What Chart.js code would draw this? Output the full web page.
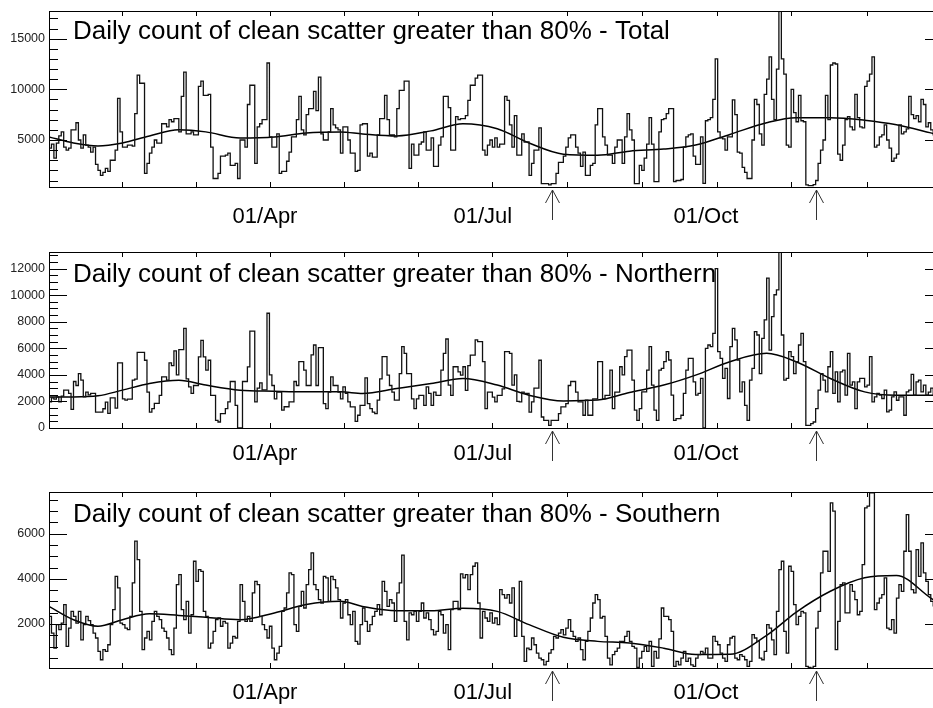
<!DOCTYPE html>
<html>
<head>
<meta charset="utf-8">
<script src="https://cdn.jsdelivr.net/npm/chart.js@4.4.1/dist/chart.umd.min.js"></script>
<style>
  html, body { margin: 0; padding: 0; background: #fff; overflow: hidden; width: 933px; height: 708px; }
  canvas { position: absolute; left: 0; }
</style>
</head>
<body>
<canvas id="pTotal" width="960" height="236" style="top:0px"></canvas>
<canvas id="pNorth" width="960" height="236" style="top:236px"></canvas>
<canvas id="pSouth" width="960" height="236" style="top:472px"></canvas>
<script>
// daily counts, index = day of year (0 = 01/Jan)
const totalCounts = [
  4200,4200,4600,3200,4700,5400,5800,4300,4000,4200,
  6000,6000,6700,5000,4200,5500,4500,4300,3800,4300,
  2600,2000,1500,1800,2200,1900,3000,
  3000,4000,9100,5800,4300,4300,4500,4500,4400,7600,
  11400,10600,10600,1700,2700,3700,4300,5000,4700,4700,
  6600,6600,6300,7000,6800,7100,7100,5800,9300,11700,
  5600,5600,5800,5500,5500,10300,10800,9400,9400,9500,
  4300,1200,1200,1700,3400,3400,3500,3700,2500,2500,
  2700,1200,5000,5000,4300,8500,10400,10400,2700,6300,
  6600,7000,7000,12600,5300,4300,4300,5600,1700,1900,
  1900,2900,3800,5300,5300,7000,9300,6000,5500,7500,
  8100,8100,9800,7900,11200,5600,5000,5000,
  5800,8100,6500,6200,6000,3700,6300,6300,5000,3700,
  3700,1900,2000,6500,6600,6600,3400,3700,3300,3300,
  5500,7100,7100,9400,7000,5500,5500,5300,8100,9900,
  9900,10800,10800,2200,4600,3500,3500,4600,4800,5800,
  4000,4000,5200,2400,2400,4500,5300,9300,9300,8200,
  4000,4000,7300,7000,7100,7100,7400,8900,10400,10400,
  11100,11400,11400,4000,3500,4500,5000,4300,5200,4300,
  4600,4600,9300,8900,6500,4300,7400,3500,3500,5600,
  4800,4800,1500,2700,4000,4000,6200,700,700,700,
  560,700,700,1700,2800,2800,3400,4300,5200,5500,
  5500,4300,3700,2400,3800,1500,1500,2500,2700,6500,
  8100,8100,5300,4500,3500,3500,2700,4300,5000,5000,
  2700,5300,
  7600,6000,5000,700,700,2500,2000,3200,4600,7200,
  4600,900,900,5800,7000,7100,7600,8100,8100,900,
  1000,1000,1100,4300,5300,5500,5600,3400,2600,2600,
  5300,720,6900,7000,7200,9000,13000,5800,5200,5100,
  4000,5300,5300,8950,7500,3800,3700,2300,1800,1200,
  1200,5000,9000,8500,5600,4500,9500,11000,13200,9000,
  7000,12000,17800,13000,11500,4500,4300,10000,7700,6800,
  9400,6900,6800,560,500,500,600,1000,2700,4000,
  5000,9400,7000,12400,12600,12500,3600,3000,4500,7000,
  7300,6300,6000,9500,7200,6300,6200,10300,10800,11500,
  13200,4300,4500,5300,5500,6500,5000,4200,2900,3200,
  3600,6500,5600,5800,6100,9300,7500,7100,7400,6800,
  9000,8500,6300,6700,6000,5500,5000,6500,6000
];

const northCounts = [
  1970,1970,2270,2170,2350,1970,2400,2850,2850,2600,
  1400,3500,3200,4100,3600,2350,2700,2500,2600,2600,
  1200,1200,1200,1450,1950,1100,2270,2270,1500,4900,
  4900,2200,2100,2170,2170,3600,3680,5700,5700,5700,
  5100,2700,1200,1460,1850,1850,2450,3850,3850,3600,
  4900,4700,5800,4000,5900,5900,7500,3700,3100,2600,
  3200,3200,5350,6600,5350,4350,5100,2450,2450,580,
  450,1080,1080,1460,1970,3500,3500,1700,0,0,
  3500,3500,4600,7300,7300,1970,3000,3400,2870,2870,
  8640,4000,3200,2200,2700,2700,1340,1600,1600,1970,
  1970,3500,3200,5000,5000,4350,3200,3200,5500,6250,
  3200,6050,6050,1840,1460,
  2700,3850,3200,3200,2700,2200,3100,2600,1970,1590,
  1590,500,960,1700,1700,3780,1840,1460,1200,1080,
  2100,3700,5370,5370,3980,3200,2700,2100,2100,4100,
  6120,5620,4100,4100,2200,1460,2200,2450,2450,1700,
  3100,2600,1700,2700,2450,2450,4360,5620,6700,3230,
  2450,4610,4610,4230,3980,4610,2840,4700,5490,5490,
  6630,6500,6500,5000,1460,2700,2700,2330,1970,2450,
  2450,2950,5750,5750,5620,3230,4000,2000,1970,2700,
  2600,2600,1200,1970,3000,3000,5100,830,580,580,
  200,580,580,580,1080,1590,1590,1840,3200,3500,
  3500,2700,1970,1970,960,2100,960,960,2200,2200,
  5000,5000,2200,2450,2450,4360,1460,2700,2700,4610,
  4000,5370,5870,
  5870,3600,1340,580,1460,2720,2720,4360,6120,3230,
  1340,580,4360,4490,4990,5750,5120,2470,580,700,
  700,960,2600,4360,5240,5240,3480,2470,2600,3730,
  0,6000,6250,6120,7130,12000,5750,5240,3730,4490,
  2220,6120,7500,6630,5120,2720,3480,1710,580,3600,
  4490,7260,7000,4100,6750,8140,11290,5870,8390,10030,
  10400,13250,7000,3600,3730,5750,5370,4100,4990,6250,
  7130,4990,200,200,330,450,1460,2850,4100,3600,
  2720,4610,5750,2600,4230,1970,4230,4360,2470,5620,
  3230,3480,1460,3480,3730,3730,3100,3230,5370,1970,
  2340,2600,2470,2220,2850,1210,1340,2340,2720,2090,
  2340,2340,960,2720,2850,4030,2470,3480,3600,2720,
  3230,2470,2700,3000,2500,2800,3000,2600
];

const southCounts = [
  2120,2340,1600,930,1970,1750,2040,2860,1010,1820,
  2560,2340,2040,2560,1300,1970,2340,2150,1970,1600,
  1380,785,415,860,785,1080,1970,2640,4115,3600,
  2040,1970,1820,1750,2340,3820,5670,4855,2560,860,
  1380,1670,1300,2120,2560,2340,2190,1820,1670,1380,
  860,640,1820,3745,4190,2640,2190,3005,1600,2410,
  4780,3890,4410,4335,2560,2340,930,1150,1670,2190,
  2265,1900,2120,2040,930,1150,1450,1380,2120,3745,
  3005,2120,2340,2120,3375,3890,3745,2340,1970,1750,
  1380,1900,930,415,710,1010,2560,2710,3375,4265,
  4190,1970,1670,2780,3450,2710,3745,4410,5150,3745,
  3525,3080,2930,4115,4040,
  3005,4115,3965,3600,3080,2265,2930,3080,2410,1970,
  2560,1230,1110,1970,2710,2120,1670,1970,2340,2560,
  2860,2410,3890,3450,2780,3080,2930,2120,3375,3820,
  5050,2120,1300,2490,2410,2560,2120,2560,2930,2265,
  2490,2190,1750,1520,1670,2560,2410,1600,1970,860,
  2640,3005,3005,2640,4220,4040,4190,3525,4190,4560,
  4710,2930,1380,2560,2265,2120,2490,2040,2265,1970,
  3525,3300,3150,3300,2930,3600,1450,2190,3890,1450,
  340,930,860,1380,1080,710,490,415,190,340,
  710,860,1450,1380,1600,1750,1520,1820,2190,1670,
  1450,1230,1380,860,415,1230,1670,2265,2930,3300,
  3080,2265,2340,1450,490,190,640,785,930,1230,
  1230,1450,
  1670,1230,1010,930,75,490,785,1010,785,1230,
  120,785,490,1340,2710,2340,2340,2190,1670,120,
  340,190,490,785,340,490,190,120,490,640,
  785,710,930,490,490,1450,1230,1080,710,490,
  340,1080,1380,1450,490,415,640,565,415,120,
  340,1530,1380,1230,490,415,785,1970,1820,1300,
  640,2560,4410,4780,1670,710,4560,4335,2860,1970,
  2340,2560,2490,120,75,45,120,1820,2560,4265,
  5225,5225,4335,7370,7000,860,2120,3745,3820,2490,
  2490,3745,3450,3080,2410,2560,4635,7150,7220,7815,
  7815,2640,2930,3150,3300,4040,1820,1750,2190,1600,
  3150,3745,3450,5225,6850,5225,3525,3375,5300,4115,
  5595,4265,3890,3300,3000,2800,3200,3000,2900
];

// smoothed fit, sampled at these days
const fitDays  = [0,10,20,30,41,53,64,78,92,105,119,128,142,156,169,183,196,210,224,237,251,264,278,293,305,319,333,346,360,365];
const fitTotal = [5300,4700,4400,4700,5400,6000,5800,5200,5300,5700,5800,5600,5400,5900,6600,6100,4700,3600,3500,3900,4100,4500,5550,6700,7200,7200,6950,6500,5700,5400];
const fitNorth = [2340,2340,2420,2850,3350,3600,3230,2850,2770,2720,2720,2600,2970,3350,3730,3230,2470,2040,2100,2670,3230,3980,4990,5620,4990,3730,2720,2470,2470,2470];
const fitSouth = [2780,2190,1900,2190,2450,2380,2300,2190,2490,2860,3005,2780,2590,2590,2700,2560,1970,1410,1230,1160,930,650,660,1500,2520,3450,4050,4150,3150,2800];

const xTickDays  = [29.8,60,90.2,120.4,150.6,180.8,211.4,242,272.7,303,334];
const dateLabels = ['01/Apr','01/Jul','01/Oct'];
const dateDays   = [88.2,177.1,268.2];
const arrowDays  = [205.5,313];

const FONT = "'Liberation Sans', Arial, Helvetica, sans-serif";

const framePlugin = {
  id: 'frame',
  afterDraw(chart, args, o) {
    const { ctx, chartArea: a, scales: { x, y } } = chart;
    ctx.save();
    ctx.strokeStyle = '#000';
    ctx.fillStyle = '#000';
    ctx.lineWidth = 1;
    ctx.strokeRect(a.left + 0.5, a.top + 0.5, a.right - a.left, a.bottom - a.top);

    // y ticks on both sides
    ctx.beginPath();
    const first = Math.ceil(o.yMin / o.minor) * o.minor;
    for (let v = first; v <= o.yMax; v += o.minor) {
      const py = Math.round(y.getPixelForValue(v)) + 0.5;
      const len = v % o.major === 0 ? 18 : 9;
      ctx.moveTo(a.left, py);  ctx.lineTo(a.left + len, py);
      ctx.moveTo(a.right, py); ctx.lineTo(a.right - len, py);
    }
    // x ticks top & bottom
    xTickDays.forEach(d => {
      const px = Math.round(x.getPixelForValue(d)) + 0.5;
      ctx.moveTo(px, a.bottom); ctx.lineTo(px, a.bottom - 5);
      ctx.moveTo(px, a.top);    ctx.lineTo(px, a.top + 5);
    });
    ctx.stroke();

    // y labels
    ctx.font = '12.5px ' + FONT;
    ctx.textAlign = 'right';
    ctx.textBaseline = 'middle';
    ctx.fillStyle = '#222';
    for (let v = first; v <= o.yMax; v += o.minor) {
      if (v % o.major !== 0) continue;
      ctx.fillText(String(v), a.left - 4, y.getPixelForValue(v));
    }

    // date labels
    ctx.fillStyle = '#000';
    ctx.font = '22px ' + FONT;
    ctx.textAlign = 'center';
    dateLabels.forEach((t, i) => {
      ctx.fillText(t, x.getPixelForValue(dateDays[i]), a.bottom + o.labelOff);
    });

    // arrows under the axis
    ctx.strokeStyle = '#333';
    ctx.beginPath();
    arrowDays.forEach(d => {
      const px = Math.round(x.getPixelForValue(d)) + 0.5;
      const tip = a.bottom + 3;
      ctx.moveTo(px, tip); ctx.lineTo(px, tip + 30);
      ctx.moveTo(px - 7, tip + 13); ctx.lineTo(px, tip); ctx.lineTo(px + 7, tip + 13);
    });
    ctx.stroke();

    // title
    ctx.fillStyle = '#000';
    ctx.font = '26px ' + FONT;
    ctx.textAlign = 'left';
    ctx.textBaseline = 'alphabetic';
    ctx.fillText(o.title, 73, a.top + o.titleOff);
    ctx.restore();
  }
};

function makePanel(id, counts, fit, cfg) {
  new Chart(document.getElementById(id), {
    type: 'line',
    data: {
      datasets: [
        {
          data: counts.map((v, i) => ({ x: i, y: v })),
          stepped: 'after',
          borderColor: '#111',
          borderWidth: 1.3,
          pointRadius: 0,
          fill: false
        },
        {
          data: fitDays.map((d, i) => ({ x: d, y: fit[i] })),
          cubicInterpolationMode: 'monotone',
          borderColor: '#000',
          borderWidth: 1.5,
          pointRadius: 0,
          fill: false
        }
      ]
    },
    options: {
      responsive: false,
      animation: false,
      layout: { padding: { left: 49, right: 17, top: cfg.top, bottom: cfg.bottom } },
      scales: {
        x: { type: 'linear', min: 0, max: 365, display: false },
        y: { type: 'linear', min: cfg.yMin, max: cfg.yMax, display: false }
      },
      plugins: {
        legend: { display: false },
        tooltip: { enabled: false },
        frame: cfg
      }
    },
    plugins: [framePlugin]
  });
}

makePanel('pTotal', totalCounts, fitTotal, {
  title: 'Daily count of clean scatter greater than 80% - Total',
  top: 11, bottom: 49, yMin: 360, yMax: 17730, major: 5000, minor: 1000,
  titleOff: 27.5, labelOff: 30
});
makePanel('pNorth', northCounts, fitNorth, {
  title: 'Daily count of clean scatter greater than 80% - Northern',
  top: 16, bottom: 44, yMin: 0, yMax: 13250, major: 2000, minor: 500,
  titleOff: 30, labelOff: 26
});
makePanel('pSouth', southCounts, fitSouth, {
  title: 'Daily count of clean scatter greater than 80% - Southern',
  top: 20, bottom: 40, yMin: 50, yMax: 7850, major: 2000, minor: 500,
  titleOff: 30, labelOff: 24.5
});
</script>
</body>
</html>
